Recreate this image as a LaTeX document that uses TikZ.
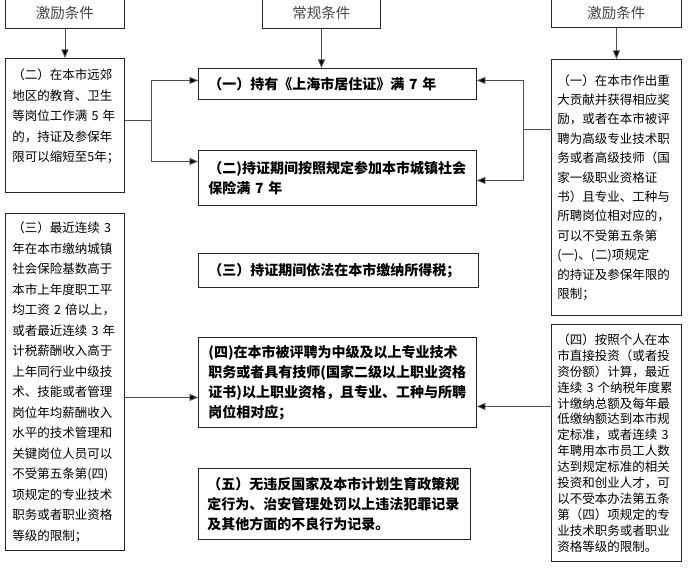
\documentclass[tikz,border=0pt]{standalone}
\usepackage{fontspec}
\setmainfont{Noto Sans CJK SC}
\usetikzlibrary{arrows.meta, positioning}
\definecolor{linegray}{RGB}{80,80,80}
\definecolor{titlegray}{RGB}{70,70,70}

\begin{document}
\begin{tikzpicture}[x=1pt, y=-1pt,
    titlebox/.style={draw=black!85, line width=0.9pt, anchor=north west, text=titlegray, font=\fontsize{14.5}{16}\selectfont},
    box/.style={draw=black!85, line width=0.9pt, anchor=north west, inner xsep=7pt, inner ysep=0pt, align=left},
    sidetext/.style={font=\fontsize{12.5}{#1}\selectfont},
    maintext/.style={inner xsep=10pt, font=\bfseries\fontsize{14}{20}\selectfont},
    link/.style={draw=linegray, line width=0.9pt},
    arr/.style={link, -{Triangle[length=8.5pt,width=7pt, fill=black]}}]
    % 画布大小与白色背景
    \useasboundingbox (0,0) rectangle (700,569);
    \fill[white] (0,0) rectangle (700,569);

    % 三个标题框
    \node[titlebox, minimum width=119pt, minimum height=30pt] (tL) at (5,-2) {激励条件};
    \node[titlebox, minimum width=118pt, minimum height=30pt] (tC) at (262,-2) {常规条件};
    \node[titlebox, minimum width=130pt, minimum height=29pt] (tR) at (551,-2) {激励条件};

    % 左侧激励条件
    \node[box, sidetext=20.5pt, text width=105pt, minimum height=134pt] (L1) at (5,58)
        {（二）在本市远郊\\地区的教育、卫生\\等岗位工作满 5 年\\的，持证及参保年\\限可以缩短至5年；\\~};
    \node[box, sidetext=20.5pt, text width=105pt, minimum height=337pt] (L2) at (5,213)
        {（三）最近连续 3\\年在本市缴纳城镇\\社会保险基数高于\\本市上年度职工平\\均工资 2 倍以上，\\或者最近连续 3 年\\计税薪酬收入高于\\上年同行业中级技\\术、技能或者管理\\岗位年均薪酬收入\\水平的技术管理和\\关键岗位人员可以\\不受第五条第(四)\\项规定的专业技术\\职务或者职业资格\\等级的限制；};

    % 中间常规条件
    \node[box, maintext, text width=258pt, minimum height=31pt] (C1) at (198,68)
        {（一）持有《上海市居住证》满 7 年};
    \node[box, maintext, text width=258pt, minimum height=55pt] (C2) at (198,150)
        {（二)持证期间按照规定参加本市城镇社会\\保险满 7 年};
    \node[box, maintext, text width=260pt, minimum height=34pt] (C3) at (198,253)
        {（三）持证期间依法在本市缴纳所得税；};
    \node[box, maintext, text width=258pt, minimum height=90pt] (C4) at (198,337)
        {(四)在本市被评聘为中级及以上专业技术\\职务或者具有技师(国家二级以上职业资格\\证书)以上职业资格，且专业、工种与所聘\\岗位相对应；};
    \node[box, maintext, text width=254pt, inner xsep=9pt, minimum height=71pt] (C5) at (198,468)
        {（五）无违反国家及本市计划生育政策规\\定行为、治安管理处罚以上违法犯罪记录\\及其他方面的不良行为记录。};

    % 右侧激励条件
    \node[box, sidetext=19.4pt, text width=118pt, inner xsep=6pt, minimum height=256pt] (R1) at (551,59)
        {（一）在本市作出重\\大贡献并获得相应奖\\励，或者在本市被评\\聘为高级专业技术职\\务或者高级技师（国\\家一级职业资格证\\书）且专业、工种与\\所聘岗位相对应的，\\可以不受第五条第\\(一)、(二)项规定\\的持证及参保年限的\\限制；};
    \node[box, sidetext=15.9pt, text width=118pt, inner xsep=6pt, minimum height=237pt] (R2) at (551,324)
        {（四）按照个人在本\\市直接投资（或者投\\资份额）计算，最近\\连续 3 个纳税年度累\\计缴纳总额及每年最\\低缴纳额达到本市规\\定标准，或者连续 3\\年聘用本市员工人数\\达到规定标准的相关\\投资和创业人才，可\\以不受本办法第五条\\第（四）项规定的专\\业技术职务或者职业\\资格等级的限制。};

    % 标题框下的箭头
    \draw[arr] (tL.south) -- (L1.north);
    \draw[arr] (tC.south) -- (tC.south |- C1.north);
    \draw[arr] (tR.south) -- (R1.north);

    % 左侧分支
    \coordinate (jL) at ([xshift=27pt, yshift=5pt]L1.east);
    \draw[link] ([yshift=5pt]L1.east) -- (jL);
    \draw[arr] (jL) |- ([yshift=3.5pt]C1.west);
    \draw[arr] (jL) |- ([yshift=16.5pt]C2.west);
    \draw[arr] ([yshift=-15.5pt]L2.east) -- ([yshift=-15pt]C4.west);

    % 右侧分支
    \coordinate (jR) at ([xshift=-28pt, yshift=58pt]R1.west);
    \draw[link] ([yshift=58pt]R1.west) -- (jR);
    \draw[arr] (jR) |- ([yshift=3.5pt]C1.east);
    \draw[arr] (jR) |- ([yshift=-2.5pt]C2.east);
    \draw[arr] ([yshift=36.5pt]R2.west) -- ([yshift=-24pt]C4.east);
\end{tikzpicture}
\end{document}
